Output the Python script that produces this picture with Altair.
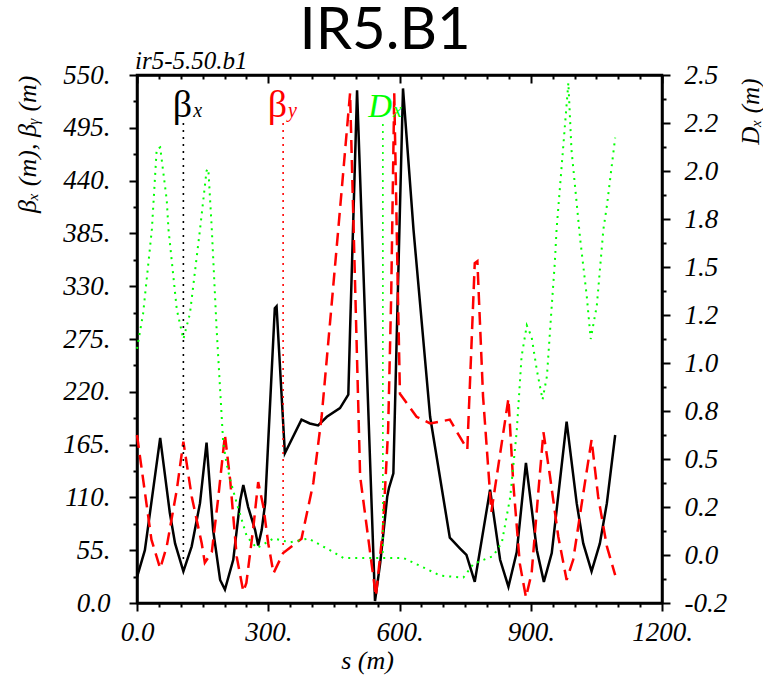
import json
import altair as alt
import pandas as pd

# ---------------- data ----------------
bx_s = [0, 18, 53, 75, 87, 106, 125, 144, 159, 174, 190, 201, 220, 236, 243, 254, 270, 277,
        285, 293, 315, 319, 338, 376, 395, 414, 434, 464, 483, 487, 503, 544, 556, 572, 576,
        586, 594, 608, 632, 670, 715, 738, 753, 772, 807, 830, 849, 868, 889, 914, 930, 948,
        982, 1005, 1020, 1039, 1058, 1074, 1093]
bx_v = [27, 55, 172, 94, 62, 33, 59, 104, 167, 76, 24, 14, 45, 107, 123, 100, 76, 60,
        76, 104, 307, 309, 156, 191, 187, 185, 194, 203, 217, 284, 534, 2, 42, 111, 120,
        135, 284, 536, 389, 194, 68, 57, 50, 22, 118, 45, 17, 53, 146, 55, 22, 52,
        189, 104, 62, 33, 62, 104, 175]

by_s = [0, 33, 53, 68, 91, 106, 125, 148, 155, 171, 186, 201, 213, 228, 243, 250, 266, 277,
        289, 300, 312, 334, 354, 376, 403, 422, 441, 460, 487, 510, 546, 562, 574, 581, 588,
        596, 601, 639, 670, 715, 738, 755, 772, 778, 791, 810, 849, 860, 875, 889, 902, 917,
        929, 944, 963, 982, 997, 1020, 1039, 1054, 1074, 1093]
by_v = [175, 66, 36, 59, 118, 168, 111, 62, 42, 53, 111, 175, 128, 48, 12, 21, 79, 126,
        100, 62, 31, 52, 59, 67, 125, 194, 291, 389, 531, 132, 7, 76, 180, 320, 531,
        330, 218, 194, 187, 191, 173, 160, 354, 356, 215, 95, 213, 125, 41, 6, 31, 114,
        178, 132, 69, 24, 45, 114, 170, 111, 59, 29]

dx_s = [0, 14, 34, 45, 53, 68, 72, 91, 106, 121, 144, 159, 163, 171, 182, 197, 205, 213,
        228, 251, 274, 312, 350, 392, 441, 472, 555, 609, 647, 693, 746, 769, 814, 834,
        853, 868, 879, 891, 902, 914, 927, 937, 948, 955, 959, 986, 993, 1013, 1028, 1037,
        1051, 1066, 1074, 1093]
dx_v = [1.10, 1.28, 1.71, 2.12, 2.13, 1.86, 1.71, 1.30, 1.15, 1.28, 1.71, 2.01, 2.02, 1.71,
        1.20, 0.62, 0.51, 0.43, 0.31, 0.14, 0.08, 0.13, 0.11, 0.13, 0.07, 0.03, 0.03, 0.03,
        -0.01, -0.06, -0.07, 0.00, 0.04, 0.11, 0.34, 0.68, 1.06, 1.22, 1.16, 0.99, 0.84,
        0.96, 1.32, 1.54, 1.71, 2.46, 2.12, 1.66, 1.37, 1.15, 1.32, 1.71, 1.83, 2.18]

# in-plot legend markers (dotted drop lines) and their labels
mark_beta_s = [106, 334]
mark_beta_top = [500, 500]
mark_beta_bot = [45, 55]
mark_beta_col = ["#000000", "#ff0000"]
mark_d_s = [562]
mark_d_top = [2.25]
mark_d_bot = [0.035]

lab_main = ["β", "β", "D"]
lab_sub = ["x", "y", "x"]
lab_s = [126, 343, 583]
lab_y = [506, 506, 506]
lab_col = ["#000000", "#ff0000", "#00ff00"]
lab_style = ["normal", "normal", "italic"]

title_text = "IR5.B1"
subtitle_text = "ir5-5.50.b1"

x_labels = ["0.0", "300.", "600.", "900.", "1200."]
x_ticks = list(range(0, 1201, 50))
beta_labels = ["0.0", "55.", "110.", "165.", "220.", "275.", "330.", "385.", "440.", "495.", "550."]
beta_ticks = [i * 27.5 for i in range(21)]
d_labels = ["-0.2", "0.0", "0.2", "0.5", "0.8", "1.0", "1.2", "1.5", "1.8", "2.0", "2.2", "2.5"]
D_MIN, D_MAX = -0.2, 2.5
d_step = (D_MAX - D_MIN) / 22
d_ticks = [D_MIN + k * d_step for k in range(23)]

# ---------------- layout / style ----------------
W, H = 525, 528
SERIF = "Liberation Serif"

x_scale = alt.Scale(domain=[0, 1200], nice=False, zero=False)
b_scale = alt.Scale(domain=[0, 550], nice=False)
d_scale = alt.Scale(domain=[D_MIN, D_MAX], nice=False, zero=False)

x_major = "datum.value % 300 === 0"
b_major = "datum.value % 55 === 0"
d_major = f"round((datum.value - ({D_MIN})) / {d_step}) % 2 === 0"

x_axis = alt.Axis(
    values=x_ticks, orient="bottom", title="s (m)",
    labelExpr=f"{x_major} ? {json.dumps(x_labels)}[round(datum.value / 300)] : ''",
    tickSize={"condition": {"test": x_major, "value": 8}, "value": 4},
    labelPadding=8, labelBaseline="top", labelFlush=False, labelOverlap=False,
    titleX=230, titleY=65, titleBaseline="alphabetic",
)
x_axis_top = alt.Axis(
    values=x_ticks, orient="bottom", offset=-H, labels=False, title=None,
    tickSize={"condition": {"test": x_major, "value": 8}, "value": 4},
)
b_axis = alt.Axis(
    values=beta_ticks, orient="left", title="βₓ (m), βᵧ (m)",
    labelExpr=f"{b_major} ? {json.dumps(beta_labels)}[round(datum.value / 55)] : ''",
    tickSize={"condition": {"test": b_major, "value": 8}, "value": 4},
    labelPadding=19, labelFlush=False, labelOverlap=False,
    titleAngle=270, titleX=-102, titleY=0, titleAlign="right", titleBaseline="alphabetic",
    titleFontSize=26,
)
d_axis = alt.Axis(
    values=d_ticks, orient="right", title="Dₓ (m)",
    labelExpr=f"{d_major} ? {json.dumps(d_labels)}[round((datum.value - ({D_MIN})) / {2 * d_step})] : ''",
    tickSize={"condition": {"test": d_major, "value": 8}, "value": 4},
    labelPadding=14, labelFlush=False, labelOverlap=False,
    titleAngle=270, titleX=96, titleY=3, titleAlign="right", titleBaseline="alphabetic",
    titleFontSize=25,
)

X = lambda ax: alt.X("s:Q", scale=x_scale, axis=ax)

bx_df = pd.DataFrame({"s": bx_s, "v": bx_v})
by_df = pd.DataFrame({"s": by_s, "v": by_v})
dx_df = pd.DataFrame({"s": dx_s, "v": dx_v})
mb_df = pd.DataFrame({"s": mark_beta_s, "top": mark_beta_top, "bot": mark_beta_bot, "c": mark_beta_col})
md_df = pd.DataFrame({"s": mark_d_s, "top": mark_d_top, "bot": mark_d_bot})
lab_df = pd.DataFrame({"s": lab_s, "y": lab_y, "main": lab_main, "sub": lab_sub,
                       "c": lab_col, "st": lab_style})

Yb = lambda f: alt.Y(f"{f}:Q", scale=b_scale, axis=b_axis)

line_bx = alt.Chart(bx_df).mark_line(color="black", strokeWidth=2.5).encode(
    x=X(x_axis), y=Yb("v"))
line_by = alt.Chart(by_df).mark_line(color="#ff0000", strokeWidth=2.5, strokeDash=[13, 7]).encode(
    x=X(x_axis), y=Yb("v"))
rules_b = alt.Chart(mb_df).mark_rule(strokeWidth=1.6, strokeDash=[2, 5]).encode(
    x=X(x_axis), y=Yb("top"), y2="bot:Q", color=alt.Color("c:N", scale=None))
txt_main = alt.Chart(lab_df).transform_filter("datum.st === 'normal'").mark_text(
    align="right", baseline="alphabetic", font=SERIF, fontSize=38).encode(
    x=X(x_axis), y=Yb("y"), text="main:N", color=alt.Color("c:N", scale=None))
txt_main_i = alt.Chart(lab_df).transform_filter("datum.st === 'italic'").mark_text(
    align="right", baseline="alphabetic", font=SERIF, fontSize=33, fontStyle="italic").encode(
    x=X(x_axis), y=Yb("y"), text="main:N", color=alt.Color("c:N", scale=None))
txt_sub = alt.Chart(lab_df).mark_text(
    align="left", baseline="alphabetic", font=SERIF, fontSize=20, fontStyle="italic", dx=1).encode(
    x=X(x_axis), y=Yb("y"), text="sub:N", color=alt.Color("c:N", scale=None))
sub_title = alt.Chart(pd.DataFrame({"t": [subtitle_text]})).mark_text(
    align="left", baseline="alphabetic", font=SERIF, fontSize=25, fontStyle="italic", color="black").encode(
    x=alt.value(-2), y=alt.value(-6), text="t:N")
main_title = alt.Chart(pd.DataFrame({"t": [title_text]})).mark_text(
    align="center", baseline="alphabetic", font="Lato", fontSize=58, color="black").encode(
    x=alt.value(248), y=alt.value(-26), text="t:N")

layer_b = alt.layer(line_bx, line_by, rules_b, txt_main, txt_main_i, txt_sub, sub_title, main_title)

Yd = lambda f: alt.Y(f"{f}:Q", scale=d_scale, axis=d_axis)
line_dx = alt.Chart(dx_df).mark_line(color="#00ff00", strokeWidth=2, strokeDash=[2, 5]).encode(
    x=X(x_axis_top), y=Yd("v"))
rule_d = alt.Chart(md_df).mark_rule(color="#00ff00", strokeWidth=1.6, strokeDash=[2, 5]).encode(
    x=X(x_axis_top), y=Yd("top"), y2="bot:Q")
layer_d = alt.layer(line_dx, rule_d)

chart = alt.layer(layer_b, layer_d).resolve_scale(y="independent").resolve_axis(
    x="independent", y="independent"
).properties(
    width=W, height=H,
    autosize=alt.AutoSizeParams(type="none"),
    padding={"left": 137, "top": 75, "right": 101, "bottom": 74},
).configure_view(stroke="black", strokeWidth=2.5).configure_axis(
    grid=False, domainColor="black", domainWidth=2.5, tickColor="black", tickWidth=2,
    labelFont=SERIF, labelFontStyle="italic", labelFontSize=27, labelColor="black",
    titleFont=SERIF, titleFontStyle="italic", titleFontWeight="normal", titleFontSize=26,
    titleColor="black",
)

chart.save("out.html", embed_options={"renderer": "svg", "actions": False})
